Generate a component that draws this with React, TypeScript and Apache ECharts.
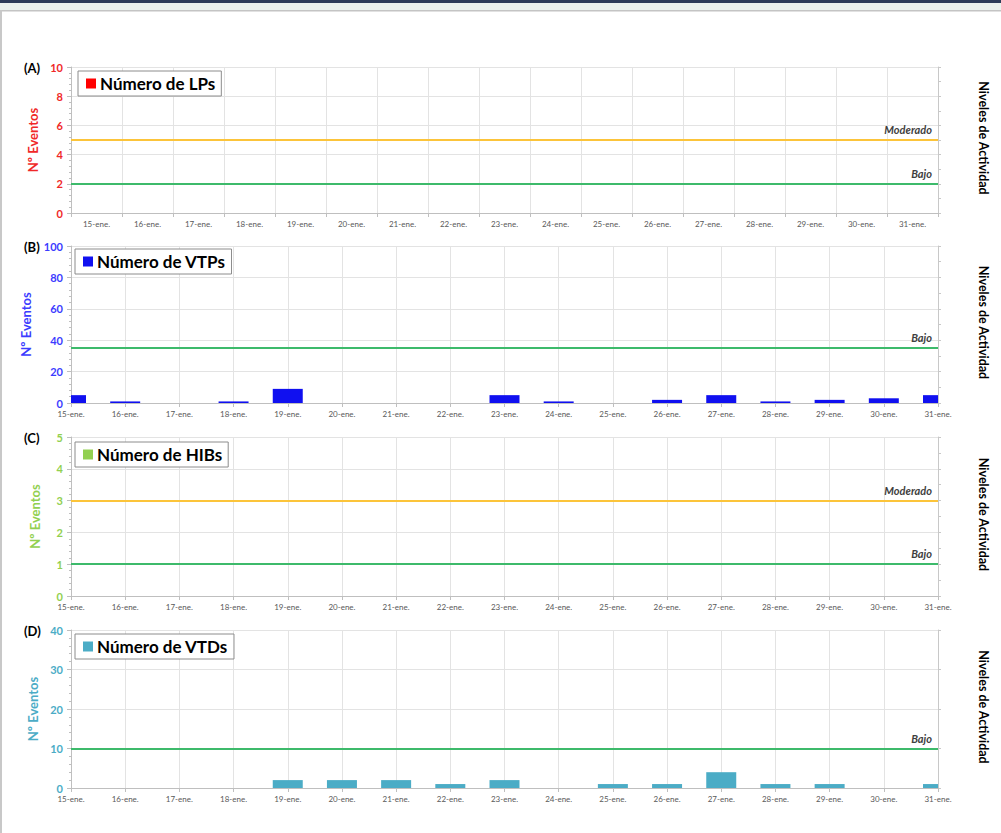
import React, { useEffect, useRef } from "react";
import * as echarts from "echarts";

const days = ["15-ene.", "16-ene.", "17-ene.", "18-ene.", "19-ene.", "20-ene.", "21-ene.", "22-ene.", "23-ene.", "24-ene.", "25-ene.", "26-ene.", "27-ene.", "28-ene.", "29-ene.", "30-ene.", "31-ene."];

const lpValues = [0, 0, 0, 0, 0, 0, 0, 0, 0, 0, 0, 0, 0, 0, 0, 0, 0];
const vtpValues = [5, 1, 0, 1, 9, 0, 0, 0, 5, 1, 0, 2, 5, 1, 2, 3, 5];
const hibValues = [0, 0, 0, 0, 0, 0, 0, 0, 0, 0, 0, 0, 0, 0, 0, 0, 0];
const vtdValues = [0, 0, 0, 0, 2, 2, 2, 1, 2, 0, 1, 1, 4, 1, 1, 0, 1];

const lpLevels = [{ name: "Moderado", value: 5 }, { name: "Bajo", value: 2 }];
const vtpLevels = [{ name: "Bajo", value: 35 }];
const hibLevels = [{ name: "Moderado", value: 3 }, { name: "Bajo", value: 1 }];
const vtdLevels = [{ name: "Bajo", value: 10 }];

const panelTags = ["(A)", "(B)", "(C)", "(D)"];
const seriesNames = ["Número de LPs", "Número de VTPs", "Número de HIBs", "Número de VTDs"];
const yMax = [10, 100, 5, 40];
const yStep = [2, 20, 1, 10];
const yRightStep = [1, 10, 0.5, 10];

const FONT = "Lato";
const GRID_LEFT = 71;
const GRID_RIGHT = 63;
const BAR_W = 30;

const panels = [
  { values: lpValues, levels: lpLevels, color: "#ff0000", labelColor: "#f02828", top: 67, height: 146, onBand: true, legendTop: 71, legendLeft: 78 },
  { values: vtpValues, levels: vtpLevels, color: "#1010f0", labelColor: "#3c3cff", top: 246, height: 157, onBand: false, legendTop: 249, legendLeft: 75 },
  { values: hibValues, levels: hibLevels, color: "#92d050", labelColor: "#92d050", top: 437, height: 159, onBand: false, legendTop: 442, legendLeft: 75 },
  { values: vtdValues, levels: vtdLevels, color: "#4bacc6", labelColor: "#4bacc6", top: 630, height: 158, onBand: false, legendTop: 634, legendLeft: 75 },
];

const levelColor: Record<string, string> = { Moderado: "#fcc43a", Bajo: "#3dba6b" };

export default function App() {
  const ref = useRef<HTMLDivElement>(null);
  useEffect(() => {
    if (!ref.current) return;
    const chart = echarts.init(ref.current, null, { renderer: "svg" });

    const grid: any[] = [];
    const xAxis: any[] = [];
    const yAxis: any[] = [];
    const series: any[] = [];
    const legend: any[] = [];
    const graphic: any[] = [
      { type: "rect", shape: { x: 0, y: 0, width: 1001, height: 3 }, style: { fill: "#2d3c58" }, silent: true },
      { type: "rect", shape: { x: 0, y: 3, width: 1001, height: 7 }, style: { fill: "#ebf2ed" }, silent: true },
      { type: "rect", shape: { x: 0, y: 10, width: 1001, height: 1.5 }, style: { fill: "#c4c4c4" }, silent: true },
      { type: "rect", shape: { x: 0, y: 10, width: 2, height: 823 }, style: { fill: "#c8c8c8" }, silent: true },
    ];

    panels.forEach((p, i) => {
      grid.push({ left: GRID_LEFT, right: GRID_RIGHT, top: p.top, height: p.height, containLabel: false });
      xAxis.push({
        type: "category",
        gridIndex: i,
        data: days,
        boundaryGap: p.onBand,
        axisLine: { show: true, lineStyle: { color: "#bfbfbf", width: 1 } },
        axisTick: { show: true, length: 4, lineStyle: { color: "#bfbfbf" } },
        splitLine: { show: true, lineStyle: { color: "#e3e3e3", width: 1 } },
        axisLabel: { interval: 0, fontSize: 8, color: "#595959", fontFamily: FONT, margin: 7 },
      });
      yAxis.push({
        type: "value",
        gridIndex: i,
        min: 0,
        max: yMax[i],
        interval: yStep[i],
        position: "left",
        name: "Nº Eventos",
        nameLocation: "middle",
        nameGap: 30,
        nameTextStyle: { color: p.labelColor, fontWeight: "bold", fontSize: 13, fontFamily: FONT },
        axisLine: { show: true, lineStyle: { color: "#bfbfbf" } },
        axisTick: { show: true, length: 4, lineStyle: { color: "#bfbfbf" } },
        minorTick: { show: true, splitNumber: 5, length: 2, lineStyle: { color: "#bfbfbf" } },
        splitLine: { show: true, lineStyle: { color: "#e3e3e3" } },
        axisLabel: { color: p.labelColor, fontWeight: "bold", fontSize: 11, fontFamily: FONT, margin: 8 },
      });
      yAxis.push({
        type: "value",
        gridIndex: i,
        min: 0,
        max: yMax[i],
        interval: yRightStep[i],
        position: "right",
        axisLine: { show: true, lineStyle: { color: "#c8c8c8" } },
        axisTick: { show: true, length: 3, lineStyle: { color: "#c8c8c8" } },
        axisLabel: { show: false },
        splitLine: { show: false },
      });
      const color = p.color;
      series.push({
        type: "custom",
        name: seriesNames[i],
        xAxisIndex: i,
        yAxisIndex: i * 2,
        data: p.values.map((v, k) => [days[k], v]),
        encode: { x: 0, y: 1 },
        itemStyle: { color },
        silent: true,
        clip: true,
        renderItem: (params: any, api: any) => {
          const xi = api.value(0);
          const v = api.value(1);
          if (!v) return null;
          const base = api.coord([xi, 0]);
          const top = api.coord([xi, v]);
          const cs = params.coordSys;
          const shape = echarts.graphic.clipRectByRect(
            { x: base[0] - BAR_W / 2, y: top[1], width: BAR_W, height: base[1] - top[1] },
            { x: cs.x, y: cs.y, width: cs.width, height: cs.height }
          );
          if (!shape) return null;
          return { type: "rect", shape, style: { fill: color } };
        },
        markLine: {
          silent: true,
          symbol: ["none", "none"],
          data: p.levels.map((l) => ({
            yAxis: l.value,
            name: l.name,
            lineStyle: { color: levelColor[l.name], width: 2, type: "solid" },
          })),
          label: {
            show: true,
            position: "insideEndTop",
            formatter: "{b}",
            fontStyle: "italic",
            fontWeight: "bold",
            fontSize: 11,
            color: "#404040",
            fontFamily: FONT,
            distance: [6, 5],
          },
        },
      });
      legend.push({
        data: [{ name: seriesNames[i], icon: "rect", itemStyle: { color } }],
        left: p.legendLeft,
        top: p.legendTop,
        orient: "horizontal",
        backgroundColor: "#ffffff",
        borderColor: "#8c8c8c",
        borderWidth: 1,
        padding: [4, 6, 4, 8],
        itemWidth: 10,
        itemHeight: 10,
        itemGap: 6,
        selectedMode: false,
        textStyle: { fontSize: 17, fontWeight: "bold", color: "#000000", fontFamily: FONT, padding: [0, 0, 0, -1] },
      });
      graphic.push({
        type: "text",
        left: 24,
        top: p.top - 6,
        style: { text: panelTags[i], font: `bold 13px ${FONT}`, fill: "#000000" },
        silent: true,
      });
      graphic.push({
        type: "text",
        x: 983,
        y: p.top + p.height / 2 - 2,
        rotation: -Math.PI / 2,
        style: { text: "Niveles de Actividad", font: `bold 12.5px ${FONT}`, fill: "#000000", align: "center", verticalAlign: "middle" },
        silent: true,
      });
    });

    chart.setOption({
      animation: false,
      backgroundColor: "#ffffff",
      grid,
      xAxis,
      yAxis,
      series,
      legend,
      graphic,
    });
    return () => chart.dispose();
  }, []);

  return <div ref={ref} style={{ position: "fixed", left: 0, top: 0, width: 1001, height: 833 }} />;
}
